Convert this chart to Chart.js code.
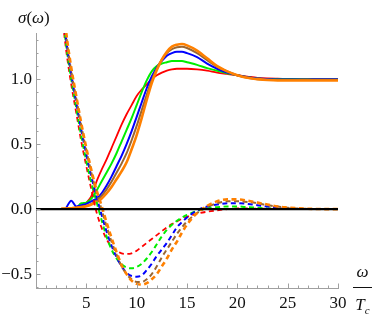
<!DOCTYPE html>
<html><head><meta charset="utf-8">
<script src="https://cdn.jsdelivr.net/npm/chart.js@4"></script>
<style>
html,body{margin:0;padding:0;background:#fff;}
#wrap{position:relative;width:374px;height:319px;overflow:hidden;}
canvas{position:absolute;left:0;top:0;}
.lbl{position:absolute;font-family:'Liberation Serif','DejaVu Serif',serif;color:#111;line-height:1;white-space:nowrap;}
</style></head><body>
<div id="wrap">
<canvas id="c" width="374" height="319"></canvas>
<div class="lbl" id="ylab" style="left:18px;top:9px;font-size:17px;"><i>σ</i>(<i>ω</i>)</div>
<div class="lbl" id="xlab" style="left:353px;top:263px;width:19px;font-size:17px;text-align:center;">
  <div><i>ω</i></div>
  <div style="border-top:1px solid #111;margin-top:7px;height:0;"></div>
  <div style="margin-top:8px;"><i>T</i><span style="font-size:11px;position:relative;top:4px;"><i>c</i></span></div>
</div>
</div>
<script>
// ---- data ----
const omega = [2.5,3,3.5,4,4.5,5,5.5,6,6.5,7,7.5,8,8.5,9,9.5,10,10.5,11,11.5,12,12.5,13,13.5,14,14.5,15,16,17,18,19,20,21,22,23,24,25,26,27,28,29,30];

const reRed    = [null,null,0.003,0.008,0.02,0.05,0.10,0.21,0.30,0.38,0.47,0.56,0.65,0.73,0.80,0.87,0.92,0.96,1.00,1.03,1.05,1.065,1.075,1.08,1.08,1.08,1.075,1.065,1.05,1.04,1.03,1.02,1.01,1.005,1.003,1.002,1.0,1.0,1.0,1.0,1.0];
const reGreen  = [null,null,0.005,0.01,0.045,0.05,0.08,0.14,0.21,0.28,0.35,0.43,0.52,0.61,0.70,0.80,0.90,0.99,1.06,1.10,1.12,1.13,1.14,1.14,1.14,1.13,1.11,1.085,1.065,1.045,1.03,1.015,1.005,1.0,1.0,1.0,1.0,1.0,1.0,1.0,1.0];
const reBlue   = [null,0.01,0.065,0.02,0.03,0.04,0.06,0.08,0.12,0.18,0.25,0.33,0.41,0.50,0.60,0.71,0.82,0.93,1.02,1.09,1.14,1.18,1.20,1.21,1.21,1.20,1.17,1.12,1.08,1.05,1.03,1.015,1.005,1.0,0.997,0.997,0.998,0.998,0.999,0.999,1.0];
const reBrown  = [0.003,0.005,0.008,0.012,0.018,0.027,0.04,0.065,0.10,0.15,0.21,0.28,0.35,0.43,0.53,0.64,0.76,0.88,0.99,1.08,1.15,1.20,1.23,1.245,1.25,1.24,1.20,1.145,1.095,1.06,1.03,1.01,1.0,0.995,0.993,0.993,0.994,0.995,0.995,0.996,0.996];
const reOrange = [0.003,0.005,0.007,0.01,0.015,0.022,0.035,0.055,0.08,0.12,0.17,0.23,0.29,0.36,0.46,0.57,0.70,0.84,0.97,1.07,1.15,1.21,1.25,1.265,1.27,1.26,1.22,1.16,1.10,1.06,1.03,1.01,1.0,0.993,0.99,0.99,0.99,0.99,0.99,0.99,0.99];

const imRed    = [1.55,1.22,0.96,0.74,0.52,0.33,0.15,-0.02,-0.14,-0.23,-0.29,-0.32,-0.34,-0.345,-0.34,-0.32,-0.29,-0.26,-0.23,-0.20,-0.17,-0.14,-0.115,-0.095,-0.075,-0.06,-0.035,-0.02,-0.01,0.0,0.005,0.005,0.004,0.003,0.002,0.001,0,0,0,0,0];
const imGreen  = [1.6,1.26,1.0,0.78,0.56,0.37,0.2,0.06,-0.08,-0.21,-0.31,-0.38,-0.425,-0.45,-0.455,-0.445,-0.42,-0.38,-0.33,-0.27,-0.21,-0.16,-0.12,-0.09,-0.065,-0.045,-0.015,0.005,0.015,0.02,0.02,0.015,0.01,0.005,0.002,0,0,0,0,0,0];
const imBlue   = [1.65,1.3,1.04,0.82,0.61,0.42,0.25,0.1,-0.04,-0.17,-0.28,-0.37,-0.44,-0.49,-0.515,-0.52,-0.51,-0.47,-0.42,-0.36,-0.31,-0.26,-0.20,-0.14,-0.10,-0.065,-0.01,0.02,0.035,0.045,0.045,0.04,0.03,0.02,0.012,0.006,0.003,0.001,0,0,0];
const imBrown  = [1.7,1.33,1.06,0.85,0.64,0.45,0.28,0.13,0.0,-0.13,-0.25,-0.35,-0.44,-0.5,-0.54,-0.56,-0.56,-0.54,-0.5,-0.44,-0.37,-0.31,-0.25,-0.19,-0.14,-0.095,-0.03,0.015,0.045,0.06,0.06,0.055,0.045,0.03,0.02,0.01,0.005,0.002,0,0,0];
const imOrange = [1.75,1.36,1.09,0.87,0.66,0.47,0.3,0.15,0.03,-0.1,-0.22,-0.33,-0.43,-0.5,-0.55,-0.575,-0.58,-0.57,-0.54,-0.5,-0.44,-0.38,-0.31,-0.25,-0.18,-0.12,-0.03,0.025,0.06,0.075,0.075,0.065,0.05,0.035,0.02,0.012,0.006,0.003,0.001,0,0];

const baseOmega = [0, 30];
const baseVals  = [0, 0];

const xTicks = [5,10,15,20,25,30];
const xTickLabels = ['5','10','15','20','25','30'];
const yTicks = [-0.5,0,0.5,1.0];
const yTickLabels = ['\u22120.5','0.0','0.5','1.0'];

// ---- chart ----
const COL = {red:'#ff0000', green:'#00ee00', blue:'#0000ff', brown:'#996633', orange:'#ff8000', black:'#000000'};
function pts(xs, ys){ return xs.map((x,i)=>({x:x, y:ys[i]})); }
function ds(ys, color, dashed, w){
  return {data: pts(omega, ys), borderColor: color, borderWidth: w, borderDash: dashed ? [5,3.5] : [],
    pointRadius: 0, fill: false, cubicInterpolationMode: 'monotone', clip: 0, spanGaps: false};
}
const datasets = [
  {data: pts(baseOmega, baseVals), borderColor: COL.black, borderWidth: 2.2, pointRadius: 0, fill: false, clip: 0},
  ds(imOrange, COL.orange, true, 2.6),
  ds(imBrown, COL.brown, true, 2),
  ds(imBlue, COL.blue, true, 2),
  ds(imGreen, COL.green, true, 2),
  ds(imRed, COL.red, true, 1.8),
  ds(reOrange, COL.orange, false, 2.6),
  ds(reBrown, COL.brown, false, 2),
  ds(reBlue, COL.blue, false, 2),
  ds(reGreen, COL.green, false, 2),
  ds(reRed, COL.red, false, 1.8)
];

const AXC = '#a0a0a0';
const inTicks = {
  id: 'inTicks',
  afterDraw(chart){
    const ctx = chart.ctx, a = chart.chartArea, x = chart.scales.x, y = chart.scales.y;
    ctx.save(); ctx.strokeStyle = AXC; ctx.lineWidth = 1;
    for (let v = 1; v <= 30; v++) {
      const px = Math.round(x.getPixelForValue(v)) + 0.5;
      const L = (v % 5 === 0) ? 4.5 : 2.5;
      ctx.beginPath(); ctx.moveTo(px, a.bottom); ctx.lineTo(px, a.bottom - L); ctx.stroke();
    }
    for (let k = -6; k <= 13; k++) {
      const py = Math.round(y.getPixelForValue(k / 10)) + 0.5;
      const L = (k % 5 === 0) ? 4.5 : 2.5;
      ctx.beginPath(); ctx.moveTo(a.left, py); ctx.lineTo(a.left + L, py); ctx.stroke();
    }
    ctx.restore();
  }
};

const tickFont = {family: "'Liberation Serif', 'DejaVu Serif', serif", size: 17};
new Chart(document.getElementById('c'), {
  type: 'line',
  data: {datasets: datasets},
  plugins: [inTicks],
  options: {
    responsive: false, animation: false, devicePixelRatio: 1, events: [],
    layout: {padding: {left: 0, right: 36, top: 33, bottom: 0}},
    plugins: {legend: {display: false}, tooltip: {enabled: false}},
    scales: {
      x: {type: 'linear', min: 0, max: 30,
        grid: {display: true, drawOnChartArea: false, drawTicks: false},
        border: {display: true, color: AXC, width: 1},
        ticks: {font: tickFont, color: '#111', padding: 5, maxRotation: 0, autoSkip: false,
          callback: (v) => { const i = xTicks.indexOf(v); return i >= 0 ? xTickLabels[i] : ''; }},
        afterBuildTicks: (s) => { s.ticks = xTicks.map(v => ({value: v})); },
        afterFit: (s) => { s.height = 31; }
      },
      y: {type: 'linear', min: -0.607, max: 1.355,
        grid: {display: true, drawOnChartArea: false, drawTicks: false},
        border: {display: true, color: AXC, width: 1},
        ticks: {font: tickFont, color: '#111', padding: 4, autoSkip: false,
          callback: (v) => { const i = yTicks.findIndex(t => Math.abs(t - v) < 1e-9); return i >= 0 ? yTickLabels[i] : ''; }},
        afterBuildTicks: (s) => { s.ticks = yTicks.map(v => ({value: v})); },
        afterFit: (s) => { s.width = 36; }
      }
    }
  }
});
</script>
</body></html>
